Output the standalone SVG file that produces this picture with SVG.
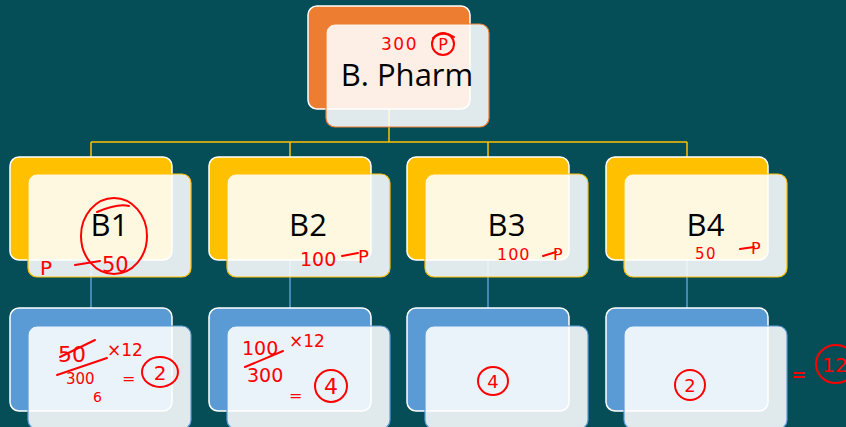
<svg xmlns="http://www.w3.org/2000/svg" width="846" height="427" viewBox="0 0 846 427">
<style>
.back{stroke:#ffffff;stroke-width:1.5}
.front{fill:#ffffff;fill-opacity:0.88;stroke-width:1.2}
.lbl{font-family:"Open Sans","Noto Sans",sans-serif;font-size:31px;fill:#000;text-anchor:middle}
.hw{font-family:"DejaVu Sans","Liberation Sans",sans-serif;fill:#ff0000}
.hs{fill:none;stroke:#ff0000;stroke-width:2;stroke-linecap:round}
.cg{stroke:#FFC000;stroke-width:1.5;fill:none}
.cb{stroke:#5B9BD5;stroke-width:1.5;fill:none}
</style>
<rect width="846" height="427" fill="#054E58"/>
<g id="connectors">
<path class="cg" d="M389 109V142M91 142H687M91 142V157M290 142V157M488 142V157M687 142V157"/>
<path class="cb" d="M91 260V308M290 260V308M488 260V308M687 260V308"/>
</g>
<g id="node-bpharm">
<rect class="back" x="308" y="6" width="162" height="103" rx="9" fill="#ED7D31"/>
<rect class="front" x="326" y="24" width="163" height="103" rx="9" stroke="#ED7D31"/>
<text class="lbl" x="407" y="86">B. Pharm</text>
</g>
<g id="node-b1">
<rect class="back" x="10" y="157" width="162" height="103" rx="9" fill="#FFC000"/>
<rect class="front" x="28" y="174" width="163" height="103" rx="9" stroke="#FFC000"/>
<text class="lbl" x="109.5" y="236">B1</text>
</g>
<g id="node-b2">
<rect class="back" x="209" y="157" width="162" height="103" rx="9" fill="#FFC000"/>
<rect class="front" x="227" y="174" width="163" height="103" rx="9" stroke="#FFC000"/>
<text class="lbl" x="308" y="236">B2</text>
</g>
<g id="node-b3">
<rect class="back" x="407" y="157" width="162" height="103" rx="9" fill="#FFC000"/>
<rect class="front" x="425" y="174" width="163" height="103" rx="9" stroke="#FFC000"/>
<text class="lbl" x="506.5" y="236">B3</text>
</g>
<g id="node-b4">
<rect class="back" x="606" y="157" width="162" height="103" rx="9" fill="#FFC000"/>
<rect class="front" x="624" y="174" width="163" height="103" rx="9" stroke="#FFC000"/>
<text class="lbl" x="705.5" y="236">B4</text>
</g>
<g id="node-c1">
<rect class="back" x="10" y="308" width="162" height="103" rx="9" fill="#5B9BD5"/>
<rect class="front" x="28" y="326" width="163" height="103" rx="9" stroke="#5B9BD5"/>
</g>
<g id="node-c2">
<rect class="back" x="209" y="308" width="162" height="103" rx="9" fill="#5B9BD5"/>
<rect class="front" x="227" y="326" width="163" height="103" rx="9" stroke="#5B9BD5"/>
</g>
<g id="node-c3">
<rect class="back" x="407" y="308" width="162" height="103" rx="9" fill="#5B9BD5"/>
<rect class="front" x="425" y="326" width="163" height="103" rx="9" stroke="#5B9BD5"/>
</g>
<g id="node-c4">
<rect class="back" x="606" y="308" width="162" height="103" rx="9" fill="#5B9BD5"/>
<rect class="front" x="624" y="326" width="163" height="103" rx="9" stroke="#5B9BD5"/>
</g>
<g id="annotations">
<text class="hw" x="381" y="50" font-size="17" letter-spacing="1.5">300</text>
<ellipse class="hs" cx="443" cy="44" rx="11" ry="11"/>
<path class="hs" d="M433 38Q443 30 454 37"/>
<text class="hw" x="443" y="50" font-size="16" text-anchor="middle">P</text>
<ellipse class="hs" cx="114" cy="236" rx="33" ry="38"/>
<path class="hs" d="M97 212Q118 203 129 206"/>
<text class="hw" x="40" y="275" font-size="20">P</text>
<path class="hs" d="M75 265L100 261"/>
<text class="hw" x="102" y="272" font-size="21">50</text>
<text class="hw" x="300" y="266" font-size="19">100</text>
<path class="hs" d="M342 256L358 253"/>
<text class="hw" x="358" y="263" font-size="18">P</text>
<text class="hw" x="497" y="260" font-size="16" letter-spacing="1">100</text>
<path class="hs" d="M543 256L556 252"/>
<text class="hw" x="553" y="260" font-size="16">P</text>
<text class="hw" x="695" y="259" font-size="15" letter-spacing="1.5">50</text>
<path class="hs" d="M740 249L754 247"/>
<text class="hw" x="751" y="254" font-size="16">P</text>
<text class="hw" x="58" y="362" font-size="22">50</text>
<path class="hs" d="M60 357L95 340"/>
<path class="hs" d="M57 375L107 358"/>
<text class="hw" x="107" y="356" font-size="17">×12</text>
<text class="hw" x="66" y="384" font-size="15">300</text>
<text class="hw" x="93" y="402" font-size="14">6</text>
<text class="hw" x="122" y="384" font-size="16">=</text>
<ellipse class="hs" cx="160" cy="372" rx="18" ry="15"/>
<text class="hw" x="160" y="380" font-size="20" text-anchor="middle">2</text>
<text class="hw" x="242" y="355" font-size="19">100</text>
<path class="hs" d="M245 367L283 351"/>
<text class="hw" x="289" y="347" font-size="17">×12</text>
<text class="hw" x="247" y="382" font-size="19">300</text>
<text class="hw" x="289" y="401" font-size="16">=</text>
<ellipse class="hs" cx="331" cy="386" rx="16" ry="16"/>
<text class="hw" x="331" y="394" font-size="22" text-anchor="middle">4</text>
<ellipse class="hs" cx="493" cy="381" rx="15" ry="14"/>
<text class="hw" x="493" y="388" font-size="18" text-anchor="middle">4</text>
<ellipse class="hs" cx="690" cy="385" rx="15" ry="15"/>
<text class="hw" x="690" y="392" font-size="18" text-anchor="middle">2</text>
<text class="hw" x="791" y="381" font-size="18" font-weight="bold">=</text>
<ellipse class="hs" cx="836" cy="364" rx="20" ry="19"/>
<text class="hw" x="822" y="372" font-size="20">12</text>
</g>
</svg>
